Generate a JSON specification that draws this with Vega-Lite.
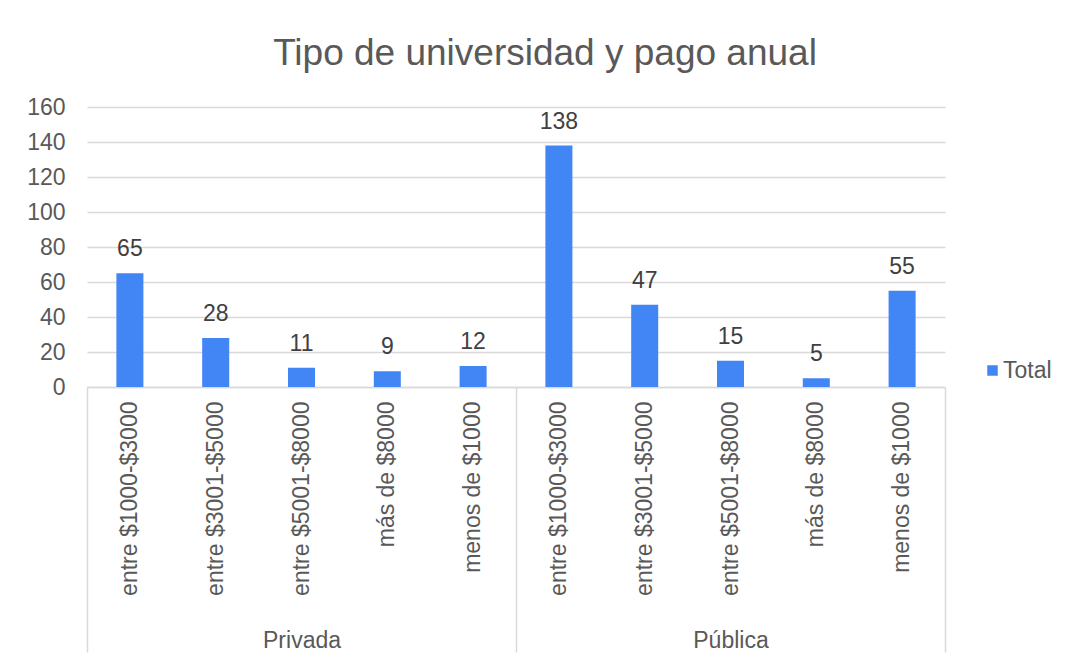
{
  "$schema": "https://vega.github.io/schema/vega-lite/v6.json",
  "width": 858,
  "height": 280,
  "autosize": {"type": "none"},
  "padding": {"left": 87, "top": 107, "right": 124, "bottom": 270},
  "background": "white",
  "title": {
    "text": "Tipo de universidad y pago anual",
    "font": "Liberation Sans",
    "fontSize": 37,
    "fontWeight": "normal",
    "color": "#595959",
    "anchor": "middle",
    "dx": 29,
    "offset": 23
  },
  "data": {
    "values": [
      {"key": "Privada|entre $1000-$3000", "grupo": "Privada", "serie": "Total", "valor": 65},
      {"key": "Privada|entre $3001-$5000", "grupo": "Privada", "serie": "Total", "valor": 28},
      {"key": "Privada|entre $5001-$8000", "grupo": "Privada", "serie": "Total", "valor": 11},
      {"key": "Privada|más de $8000", "grupo": "Privada", "serie": "Total", "valor": 9},
      {"key": "Privada|menos de $1000", "grupo": "Privada", "serie": "Total", "valor": 12},
      {"key": "Pública|entre $1000-$3000", "grupo": "Pública", "serie": "Total", "valor": 138},
      {"key": "Pública|entre $3001-$5000", "grupo": "Pública", "serie": "Total", "valor": 47},
      {"key": "Pública|entre $5001-$8000", "grupo": "Pública", "serie": "Total", "valor": 15},
      {"key": "Pública|más de $8000", "grupo": "Pública", "serie": "Total", "valor": 5},
      {"key": "Pública|menos de $1000", "grupo": "Pública", "serie": "Total", "valor": 55}
    ]
  },
  "config": {
    "view": {"stroke": null},
    "font": "Liberation Sans",
    "axis": {
      "labelFont": "Liberation Sans",
      "labelColor": "#595959",
      "labelFontSize": 23,
      "labelLimit": 0,
      "gridColor": "#d9d9d9",
      "gridWidth": 1.5,
      "domainColor": "#d9d9d9",
      "domainWidth": 1.5,
      "tickColor": "#d9d9d9",
      "tickWidth": 1.5
    }
  },
  "encoding": {
    "y": {
      "field": "valor",
      "type": "quantitative",
      "scale": {"domain": [0, 160], "nice": false},
      "axis": {
        "title": null,
        "values": [0, 20, 40, 60, 80, 100, 120, 140, 160],
        "labelOverlap": false,
        "domain": false,
        "ticks": false,
        "labelPadding": 22,
        "grid": true
      }
    }
  },
  "layer": [
    {
      "mark": {"type": "bar"},
      "encoding": {
        "x": {
          "field": "key",
          "type": "nominal",
          "sort": null,
          "scale": {"paddingInner": 0.685, "paddingOuter": 0.3425},
          "axis": {
            "title": null,
            "labelExpr": "split(datum.value, '|')[1]",
            "labelAngle": -90,
            "labelAlign": "right",
            "labelBaseline": "middle",
            "ticks": false,
            "tickSize": 0,
            "labelPadding": 14,
            "labelLimit": 0,
            "labelOverlap": false,
            "domain": true,
            "grid": false
          }
        },
        "color": {
          "field": "serie",
          "type": "nominal",
          "scale": {"range": ["#4285f4"]},
          "legend": {
            "title": null,
            "orient": "none",
            "legendX": 894,
            "legendY": 252,
            "symbolType": "square",
            "symbolSize": 110,
            "symbolStrokeWidth": 0,
            "labelFontSize": 23,
            "labelColor": "#595959",
            "labelFont": "Liberation Sans",
            "labelOffset": -1
          }
        }
      }
    },
    {
      "mark": {"type": "text", "baseline": "middle", "dy": -24, "fontSize": 23, "color": "#404040", "font": "Liberation Sans"},
      "encoding": {
        "x": {"field": "key", "type": "nominal", "sort": null, "axis": null, "scale": {"paddingInner": 0.685, "paddingOuter": 0.3425}},
        "text": {"field": "valor", "type": "quantitative"}
      }
    },
    {
      "mark": {"type": "point", "opacity": 0},
      "encoding": {
        "x": {
          "field": "grupo",
          "type": "nominal",
          "sort": null,
          "scale": {"paddingInner": 0, "paddingOuter": 0},
          "axis": {
            "title": null,
            "orient": "bottom",
            "domain": false,
            "grid": false,
            "ticks": true,
            "tickBand": "extent",
            "tickSize": 265,
            "labelAngle": 0,
            "labelBaseline": "top",
            "labelPadding": -23,
            "labelFontSize": 23
          }
        }
      }
    }
  ],
  "resolve": {"scale": {"x": "independent"}, "axis": {"x": "independent"}}
}
